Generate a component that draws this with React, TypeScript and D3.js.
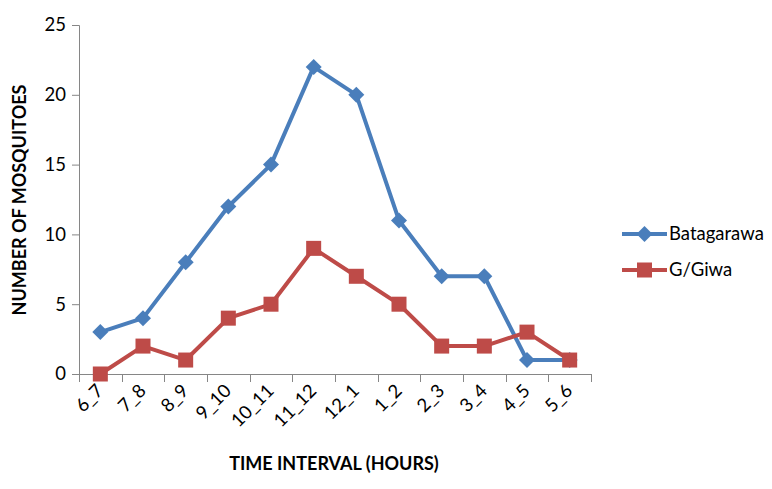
import * as d3 from 'd3'
import React, { useRef, useEffect } from 'react'

const intervals = ['6_7', '7_8', '8_9', '9_10', '10_11', '11_12', '12_1', '1_2', '2_3', '3_4', '4_5', '5_6']
const batagarawa = [3, 4, 8, 12, 15, 22, 20, 11, 7, 7, 1, 1]
const gGiwa = [0, 2, 1, 4, 5, 9, 7, 5, 2, 2, 3, 1]
const yTicks = [0, 5, 10, 15, 20, 25]

const FONT = 'Lato, "Open Sans", sans-serif'

const App = () => {
  const myRef = useRef(null)

  useEffect(() => {
    const svg = d3.select(myRef.current)
    svg.selectAll('*').remove()

    const x = d3.scaleBand().domain(intervals).range([79, 591])
    const y = d3.scaleLinear().domain([0, 25]).range([374, 25])
    const cx = (d) => x(d) + x.bandwidth() / 2

    const axisColor = '#868686'

    // y axis
    const yAxis = svg.append('g').attr('transform', 'translate(79,0)')
      .call(d3.axisLeft(y).tickValues(yTicks).tickSize(7).tickPadding(6))
    yAxis.select('.domain').attr('stroke', axisColor)
    yAxis.selectAll('line').attr('stroke', axisColor)
    yAxis.selectAll('text').attr('font-size', 18.5).attr('font-family', FONT).attr('fill', '#000')

    // x axis with ticks between categories
    const xg = svg.append('g')
    xg.append('line').attr('x1', 79).attr('x2', 591).attr('y1', 374.5).attr('y2', 374.5)
      .attr('stroke', axisColor)
    const edges = intervals.map((d) => x(d)).concat([591])
    xg.selectAll('.tk').data(edges).enter().append('line')
      .attr('x1', (d) => Math.round(d) + 0.5).attr('x2', (d) => Math.round(d) + 0.5)
      .attr('y1', 374).attr('y2', 382).attr('stroke', axisColor)
    xg.selectAll('.lbl').data(intervals).enter().append('text')
      .attr('transform', (d) => `translate(${cx(d) + 4},${392}) rotate(-45)`)
      .attr('text-anchor', 'end')
      .attr('font-size', 18.5).attr('font-family', FONT)
      .text((d) => d)

    const line = d3.line().x((d, i) => cx(intervals[i])).y((d) => y(d))

    const series = [
      { name: 'Batagarawa', values: batagarawa, color: '#4A7EBB', shape: 'diamond' },
      { name: 'G/Giwa', values: gGiwa, color: '#BE4B48', shape: 'square' },
    ]

    const marker = (g, shape, color) => {
      if (shape === 'diamond') {
        g.append('path').attr('d', 'M0,-8L8,0L0,8L-8,0Z').attr('fill', color)
      } else {
        g.append('rect').attr('x', -7.5).attr('y', -7.5).attr('width', 15).attr('height', 15).attr('fill', color)
      }
    }

    series.forEach((s) => {
      svg.append('path').datum(s.values).attr('d', line)
        .attr('fill', 'none').attr('stroke', s.color).attr('stroke-width', 4)
        .attr('stroke-linejoin', 'round')
      s.values.forEach((v, i) => {
        const g = svg.append('g').attr('transform', `translate(${cx(intervals[i])},${y(v)})`)
        marker(g, s.shape, s.color)
      })
    })

    // legend
    series.forEach((s, i) => {
      const ly = 234 + i * 36
      svg.append('line').attr('x1', 622).attr('x2', 667).attr('y1', ly).attr('y2', ly)
        .attr('stroke', s.color).attr('stroke-width', 4)
      const g = svg.append('g').attr('transform', `translate(644.5,${ly})`)
      marker(g, s.shape, s.color)
      svg.append('text').attr('x', 669).attr('y', ly).attr('dy', '0.35em')
        .attr('font-size', 18.5).attr('font-family', FONT).text(s.name)
    })

    // axis titles
    svg.append('text').attr('x', 334).attr('y', 470).attr('text-anchor', 'middle')
      .attr('font-size', 18).attr('font-weight', 'bold').attr('font-family', FONT)
      .text('TIME INTERVAL (HOURS)')
    svg.append('text').attr('transform', 'translate(26,200) rotate(-90)').attr('text-anchor', 'middle')
      .attr('font-size', 18).attr('font-weight', 'bold').attr('font-family', FONT)
      .text('NUMBER OF MOSQUITOES')
  }, [])

  return (
    <svg ref={myRef} width={772} height={489}
      style={{ position: 'absolute', left: 0, top: 0, background: '#fff' }} />
  )
}

export default App
